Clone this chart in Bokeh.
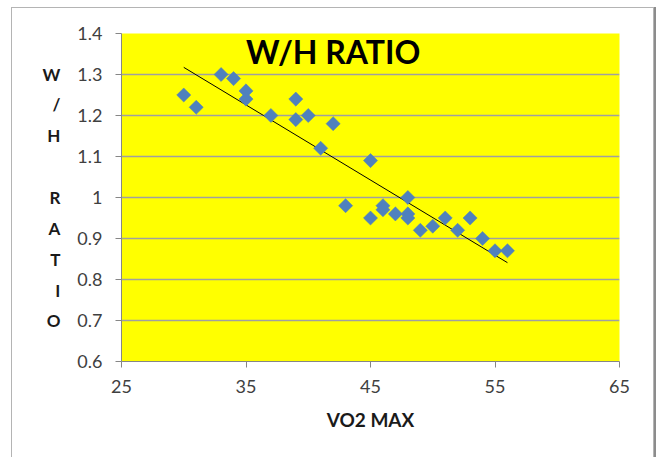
import numpy as np
from bokeh.plotting import figure
from bokeh.models import Range1d, FixedTicker, CustomJSTickFormatter, Label, ColumnDataSource
from bokeh.models import Axis
from bokeh.embed import file_html
from bokeh.resources import INLINE

# data
vo2_max = [30, 31, 33, 34, 35, 35, 37, 39, 39, 40, 41, 42, 43, 45, 45, 46, 46, 47,
           48, 48, 48, 49, 50, 51, 52, 53, 54, 55, 56]
wh_ratio = [1.25, 1.22, 1.30, 1.29, 1.26, 1.24, 1.20, 1.24, 1.19, 1.20, 1.12, 1.18, 0.98,
            1.09, 0.95, 0.98, 0.97, 0.96, 1.00, 0.96, 0.95, 0.92, 0.93, 0.95, 0.92, 0.95,
            0.90, 0.87, 0.87]
x_ticks = [25, 35, 45, 55, 65]
y_ticks = [0.6, 0.7, 0.8, 0.9, 1.0, 1.1, 1.2, 1.3, 1.4]
title_text = "W/H RATIO"
x_title = "VO2 MAX"
y_title = "W\n/\nH\n \nR\nA\nT\nI\nO"

FONT = "Lato"

p = figure(width=641, height=449, output_backend="svg", toolbar_location=None,
           x_range=Range1d(25, 65), y_range=Range1d(0.6, 1.4),
           min_border_left=109, min_border_right=34, min_border_top=25, min_border_bottom=96)
p.margin = (8, 0, 0, 12)
p.styles = {"box-shadow": "0 0 0 1px #b4b4b4, 2px 0 0 1px #8c8c8c"}
p.background_fill_color = "#ffff00"
p.border_fill_color = "white"
p.outline_line_color = None

p.xgrid.grid_line_color = None
p.ygrid.grid_line_color = "#a0a0a0"
p.ygrid.grid_line_width = 1.5

fmt = CustomJSTickFormatter(code="return tick.toFixed(1).replace(/\\.0$/, '');")
p.xaxis.ticker = FixedTicker(ticks=x_ticks)
p.yaxis.ticker = FixedTicker(ticks=y_ticks)
p.yaxis.formatter = fmt
for ax in (p.xaxis[0], p.yaxis[0]):
    ax.axis_line_color = "#868686"
    ax.major_tick_line_color = "#868686"
    ax.major_tick_out = 6
    ax.major_tick_in = 0
    ax.minor_tick_line_color = None
    ax.major_label_text_font = FONT
    ax.major_label_text_font_size = "18px"
    ax.major_label_text_color = "#404040"
    ax.axis_label_text_font = FONT
    ax.axis_label_text_font_style = "bold"
    ax.axis_label_text_color = "#1a1a1a"
p.yaxis.major_label_standoff = 13
p.xaxis.major_label_standoff = 12
p.xaxis.axis_label = x_title
p.xaxis.axis_label_text_font_size = "19px"
p.xaxis.axis_label_standoff = 12

p.yaxis.axis_label = y_title
p.yaxis.axis_label_text_font_size = "17px"
p.yaxis.axis_label_text_line_height = 1.47
p.yaxis.axis_label_standoff = 14
if "axis_label_orientation" in Axis.properties():
    p.yaxis.axis_label_orientation = "horizontal"

# trend line (least squares fit of the data)
slope, intercept = np.polyfit(vo2_max, wh_ratio, 1)
tx = [min(vo2_max), max(vo2_max)]
ty = [slope * v + intercept for v in tx]
p.line(tx, ty, line_color="#000000", line_width=1)

src = ColumnDataSource(dict(x=vo2_max, y=wh_ratio))
p.scatter("x", "y", source=src, marker="square", size=10, angle=np.pi / 4,
          fill_color="#4f81bd", line_color="#4f81bd", line_width=0.5)

p.add_layout(Label(x=42.0, y=1.355, text=title_text, text_align="center",
                   text_baseline="alphabetic", text_font=FONT, text_font_style="bold",
                   text_font_size="32px", text_color="#000000"))

open("out.html", "w").write(file_html(p, INLINE))
